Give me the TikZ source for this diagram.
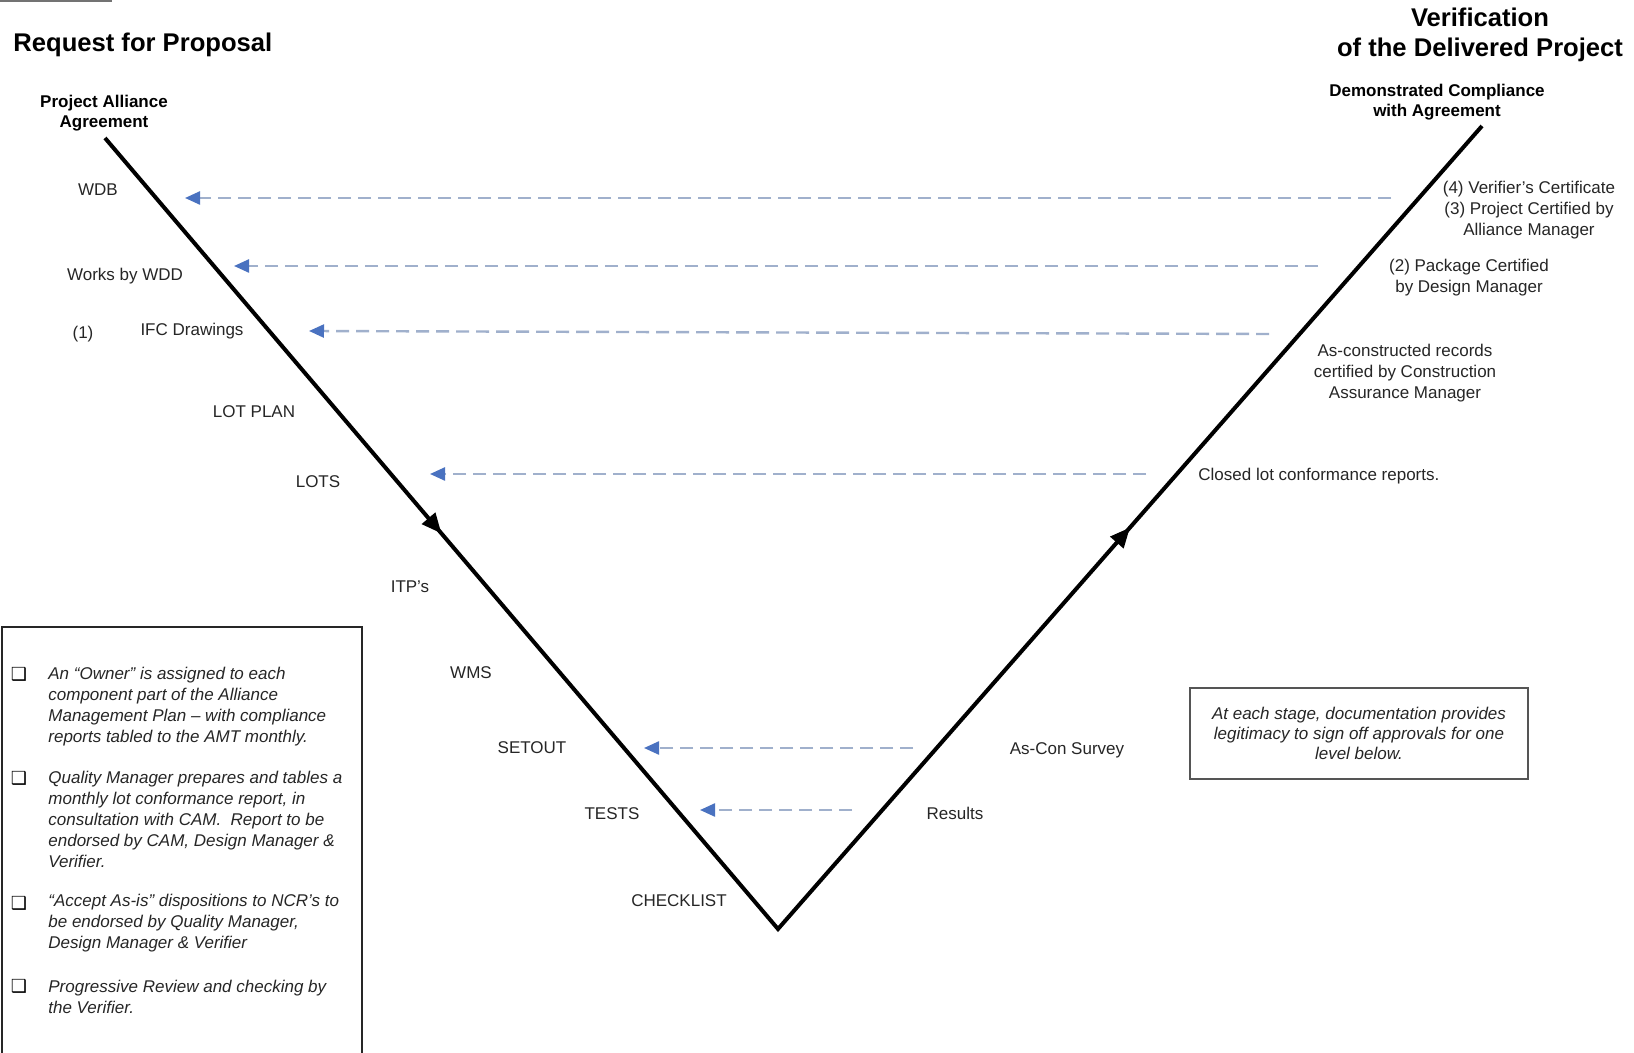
\documentclass[tikz,border=0pt]{standalone}
\usepackage{fontspec}
\setmainfont{Liberation Sans}
\newfontfamily\dejavu{DejaVu Sans}
\usetikzlibrary{arrows.meta,decorations.markings}
\definecolor{dashcol}{HTML}{A0B0CC}
\definecolor{headblue}{HTML}{4A72C0}
\definecolor{txt}{HTML}{262626}
\definecolor{boxgray}{HTML}{555555}
\begin{document}
\begin{tikzpicture}[x=0.5pt,y=-0.5pt,
  lbl/.style={inner sep=0pt, font=\fontsize{8.5pt}{10.5pt}\selectfont, text=txt, align=center},
  hdr/.style={inner sep=0pt, font=\bfseries\fontsize{8.5pt}{10pt}\selectfont, align=center},
  ttl/.style={inner sep=0pt, font=\bfseries\fontsize{12.8pt}{15pt}\selectfont, align=center},
  note/.style={inner sep=0pt, font=\itshape\fontsize{8.5pt}{10.5pt}\selectfont, text=txt, align=left, anchor=west},
  sq/.style={inner sep=0pt, font=\dejavu\fontsize{9pt}{9pt}\selectfont},
  fb/.style={draw=dashcol, line width=1.2pt, dash pattern=on 6.5pt off 3.5pt, -{Triangle[length=7.5pt,width=6.5pt,color=headblue]}},
  vline/.style={line width=2pt, line join=miter},
  midarrows/.style={postaction={decorate}, decoration={markings,
     mark=at position 0.2465 with {\arrow{Triangle[length=10pt,width=8.5pt]}},
     mark=at position 0.7465 with {\arrow{Triangle[length=10pt,width=8.5pt]}}}},
]
\clip (0,0) rectangle (1634,1053);
\fill[white] (0,0) rectangle (1634,1053);

% top-left fragment
\draw[draw=black!55, line width=1pt] (0,1) -- (112,1);

% the V
\coordinate (vtl) at (105,138);
\coordinate (vb) at (778,929);
\coordinate (vtr) at (1482,126);
\draw[vline, midarrows] (vtl) -- (vb) -- (vtr);

% titles
\node[ttl, anchor=base west] (rfp) at (13,52) {Request for Proposal};
\node[ttl] (vdp) at (1480,35) {Verification\\of the Delivered Project};
\node[hdr] (paa) at (104,113.5) {Project Alliance\\Agreement};
\node[hdr] (dca) at (1437,102) {Demonstrated Compliance\\with Agreement};

% left labels
\node[lbl, anchor=base] (wdb) at (98,196) {WDB};
\node[lbl, anchor=base] (wdd) at (125,281) {Works by WDD};
\node[lbl, anchor=base] (one) at (83,339) {(1)};
\node[lbl, anchor=base] (ifc) at (192,336) {IFC Drawings};
\node[lbl, anchor=base] (lotplan) at (254,418) {LOT PLAN};
\node[lbl, anchor=base] (lots) at (318,488) {LOTS};
\node[lbl, anchor=base] (itp) at (410,593) {ITP’s};
\node[lbl, anchor=base] (wms) at (471,678) {WMS};
\node[lbl, anchor=base] (setout) at (532,753) {SETOUT};
\node[lbl, anchor=base] (tests) at (612,819) {TESTS};
\node[lbl, anchor=base] (check) at (679,906) {CHECKLIST};

% right labels
\node[lbl] (cert) at (1529,210) {(4) Verifier’s Certificate\\(3) Project Certified by\\Alliance Manager};
\node[lbl] (pkg) at (1469,278) {(2) Package Certified\\by Design Manager};
\node[lbl] (asc) at (1405,373.5) {As-constructed records\\certified by Construction\\Assurance Manager};
\node[lbl, anchor=base west] (closed) at (1198,481) {Closed lot conformance reports.};
\node[lbl, anchor=base] (survey) at (1067,754) {As-Con Survey};
\node[lbl, anchor=base] (results) at (955,819) {Results};

% feedback arrows
\coordinate (f1s) at (1391,198); \coordinate (f1e) at (185,198);
\coordinate (f2s) at (1318,266); \coordinate (f2e) at (234,266);
\coordinate (f3s) at (1269,334); \coordinate (f3e) at (309,331);
\coordinate (f4s) at (1146,474); \coordinate (f4e) at (430,474);
\coordinate (f5s) at (913,748); \coordinate (f5e) at (644,748);
\coordinate (f6s) at (852,810); \coordinate (f6e) at (700,810);
\draw[fb] (f1s) -- (f1e);
\draw[fb] (f2s) -- (f2e);
\draw[fb] (f3s) -- (f3e);
\draw[fb] (f4s) -- (f4e);
\draw[fb] (f5s) -- (f5e);
\draw[fb] (f6s) -- (f6e);

% right note box
\node[draw=boxgray, line width=1pt, minimum width=169pt, minimum height=45.5pt, inner sep=0pt,
      font=\itshape\fontsize{8.5pt}{10pt}\selectfont, text=txt, align=center] (stagebox) at (1359,733.5)
  {At each stage, documentation provides\\legitimacy to sign off approvals for one\\level below.};

% left note box
\draw[line width=0.8pt, draw=black!85] (2,1100) -- (2,627) -- (362,627) -- (362,1100);
\node[sq] (b1) at (19,674) {❑};
\node[sq] (b2) at (19,778) {❑};
\node[sq] (b3) at (19,903) {❑};
\node[sq] (b4) at (19,986) {❑};
\node[note] (n1) at (48,707) {An “Owner” is assigned to each\\component part of the Alliance\\Management Plan – with compliance\\reports tabled to the AMT monthly.};
\node[note] (n2) at (48,819.5) {Quality Manager prepares and tables a\\monthly lot conformance report, in\\consultation with CAM.\ \ Report to be\\endorsed by CAM, Design Manager \&\\Verifier.};
\node[note] (n3) at (48,923.5) {“Accept As-is” dispositions to NCR’s to\\be endorsed by Quality Manager,\\Design Manager \& Verifier};
\node[note] (n4) at (48,997) {Progressive Review and checking by\\the Verifier.};
\end{tikzpicture}
\end{document}
